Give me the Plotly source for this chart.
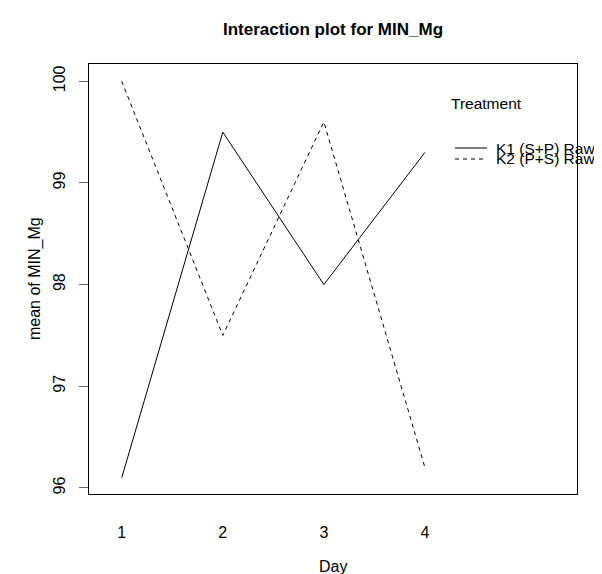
import plotly.graph_objects as go

days = [1, 2, 3, 4]
day_labels = ["1", "2", "3", "4"]
k1_means = [96.1, 99.5, 98.0, 99.3]
k2_means = [100.0, 97.5, 99.6, 96.2]
series_names = ["K1 (S+P) Raw", "K2 (P+S) Raw"]
y_ticks = [96, 97, 98, 99, 100]

FONT = "Liberation Sans, Arial, sans-serif"
W, H = 602, 574
L, R, T, B = 81, 33, 56, 88
pw, ph = W - L - R, H - T - B

fig = go.Figure()
fig.add_trace(go.Scatter(x=days, y=k1_means, mode="lines", name=series_names[0],
                         line=dict(color="black", width=1), showlegend=False))
fig.add_trace(go.Scatter(x=days, y=k2_means, mode="lines", name=series_names[1],
                         line=dict(color="black", width=1, dash="4px,4px"), showlegend=False))

def px(xp):
    return (xp - L) / pw

def py(yp):
    return (H - B - yp) / ph

# legend drawn manually (R-style)
fig.add_annotation(text="Treatment", x=px(442), y=py(95), xref="paper", yref="paper",
                   xanchor="left", yanchor="middle", showarrow=False, borderpad=0,
                   font=dict(size=15.5, color="black", family=FONT))
for i, (name, dash) in enumerate(zip(series_names, ["solid", "4px,4px"])):
    yy = 140 + 11 * i
    fig.add_shape(type="line", xref="paper", yref="paper", x0=px(447), x1=px(479),
                  y0=py(yy), y1=py(yy), line=dict(color="black", width=1, dash=dash))
    fig.add_annotation(text=name, x=px(487), y=py(yy), xref="paper", yref="paper",
                       xanchor="left", yanchor="middle", showarrow=False, borderpad=0,
                       font=dict(size=15.5, color="black", family=FONT))

fig.add_annotation(text="Day", x=0.5, y=py(558), xref="paper", yref="paper",
                   xanchor="center", yanchor="middle", showarrow=False,
                   font=dict(size=16, color="black", family=FONT))
fig.add_annotation(text="mean of MIN_Mg", x=px(27), y=0.5, xref="paper", yref="paper",
                   xanchor="center", yanchor="middle", showarrow=False, textangle=-90,
                   font=dict(size=16, color="black", family=FONT))

fig.update_layout(
    width=W, height=H,
    margin=dict(l=L, r=R, t=T, b=B, pad=0),
    paper_bgcolor="white", plot_bgcolor="white",
    font=dict(family=FONT, size=16, color="black"),
    title=dict(text="<b>Interaction plot for MIN_Mg</b>", x=px(325), xref="paper",
               xanchor="center", y=1 - 21 / H, yanchor="middle",
               font=dict(size=17, color="black", family=FONT)),
    xaxis=dict(range=[0.676, 5.505], tickvals=days, ticktext=day_labels,
               showgrid=False, zeroline=False, showline=True, mirror=True,
               linecolor="black", linewidth=1, ticks="", ticklabelstandoff=24,
               tickfont=dict(size=16, family=FONT, color="black")),
    yaxis=dict(range=[95.94, 100.17], tickvals=y_ticks, ticktext=[str(v) for v in y_ticks],
               showgrid=False, zeroline=False, showline=True, mirror=True,
               linecolor="black", linewidth=1, ticks="outside", ticklen=9,
               tickcolor="#666", tickwidth=1, tickangle=-90, ticklabelstandoff=8,
               tickfont=dict(size=16, family=FONT, color="black")),
)

fig.write_html("out.html")
